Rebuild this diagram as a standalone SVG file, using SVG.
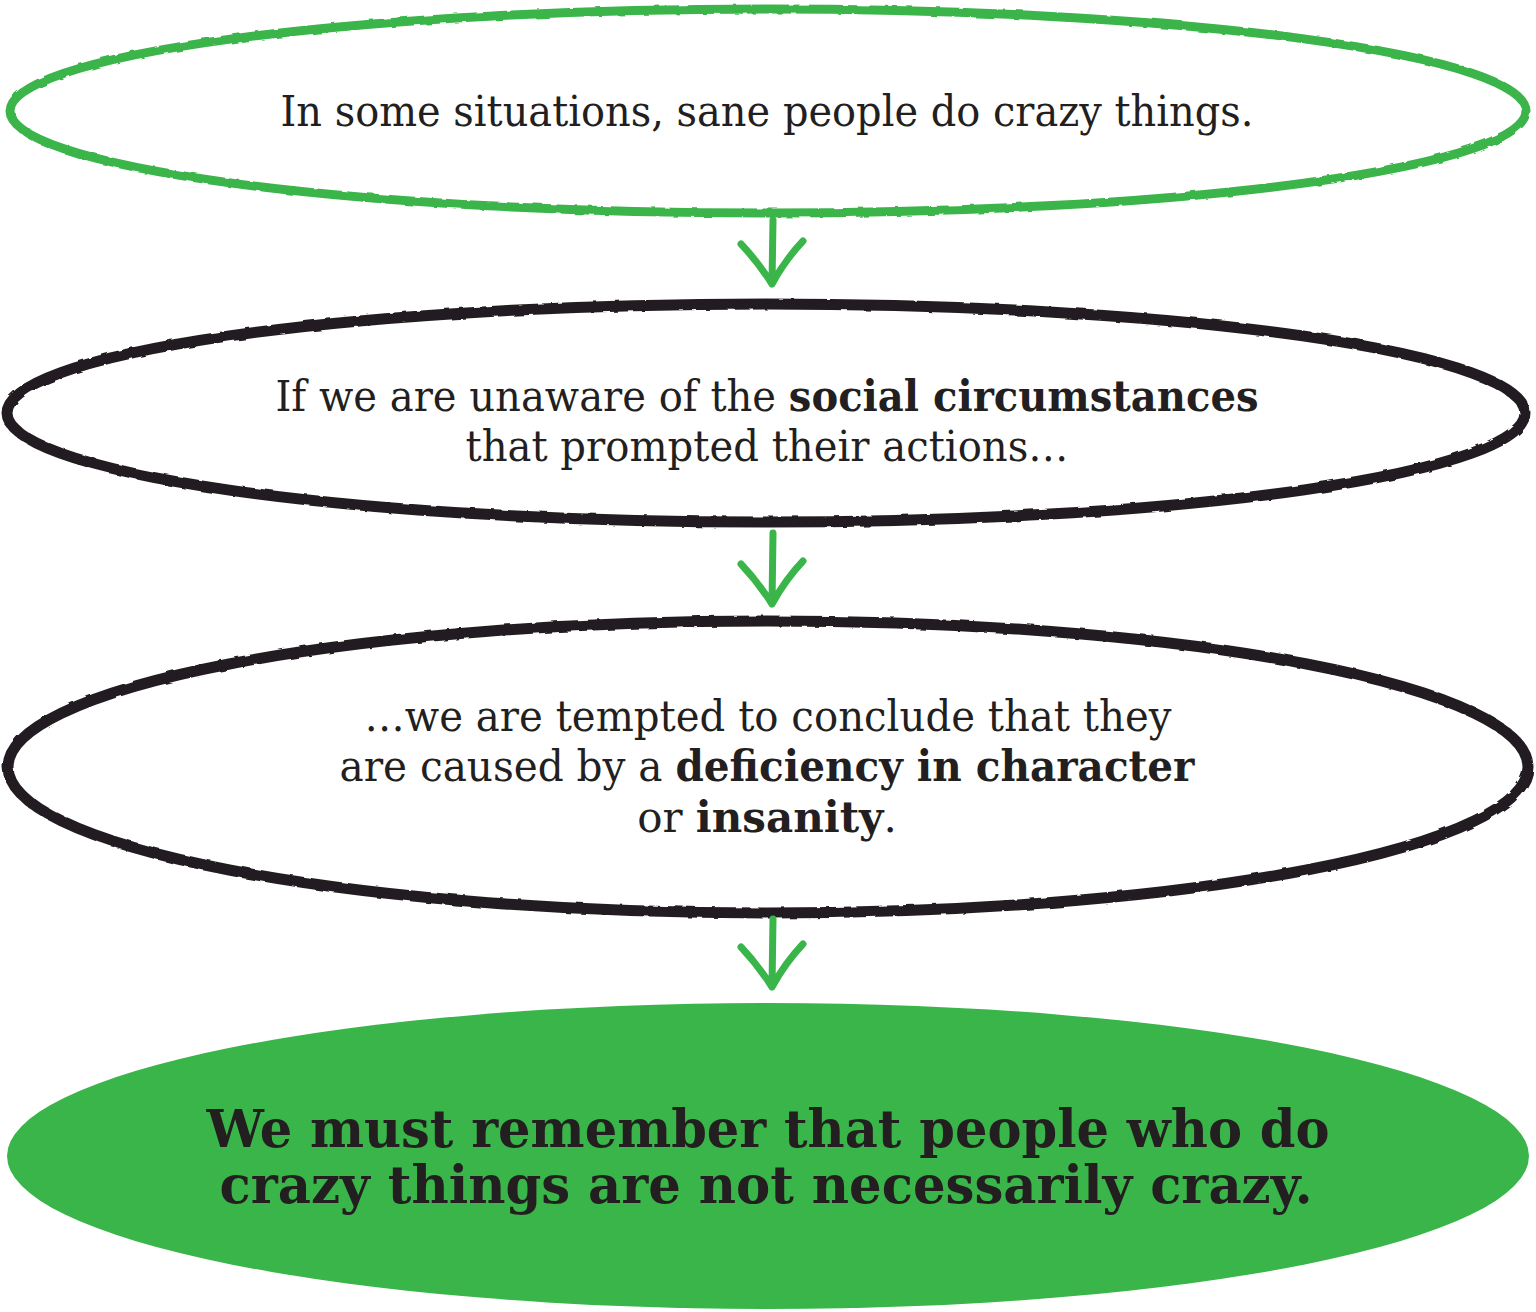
<svg xmlns="http://www.w3.org/2000/svg" width="1536" height="1312" viewBox="0 0 1536 1312">
<style>
.txt{font-family:"DejaVu Serif","Liberation Serif",serif;fill:#231f20;text-anchor:middle}
.lt{font-size:42px;font-weight:normal}
.b{font-weight:bold}
.big{font-size:52px;font-weight:bold}
.green{fill:none;stroke:#3ab54a;stroke-width:9}
.black{fill:none;stroke:#231f20;stroke-width:11}
.arrow{fill:none;stroke:#3ab54a;stroke-width:7;stroke-linecap:round;stroke-linejoin:round}
</style>
<defs>
<filter id="rough" x="-5%" y="-10%" width="110%" height="120%">
<feTurbulence type="fractalNoise" baseFrequency="0.08" numOctaves="2" seed="3"/>
<feDisplacementMap in="SourceGraphic" scale="3"/>
</filter>
</defs>
<rect width="1536" height="1312" fill="#ffffff"/>
<g id="node1">
<ellipse class="green" cx="768" cy="111" rx="758" ry="102" filter="url(#rough)"/>
<text class="txt lt" x="767" y="126" textLength="973" lengthAdjust="spacingAndGlyphs">In some situations, sane people do crazy things.</text>
</g>
<g id="node2">
<ellipse class="black" cx="766" cy="413" rx="759" ry="109" filter="url(#rough)"/>
<text class="txt lt" x="767" y="411" textLength="983" lengthAdjust="spacingAndGlyphs">If we are unaware of the <tspan class="b">social circumstances</tspan></text>
<text class="txt lt" x="767" y="461" textLength="603" lengthAdjust="spacingAndGlyphs">that prompted their actions…</text>
</g>
<g id="node3">
<ellipse class="black" cx="768" cy="767" rx="760" ry="146" filter="url(#rough)"/>
<text class="txt lt" x="768" y="731" textLength="807" lengthAdjust="spacingAndGlyphs">…we are tempted to conclude that they</text>
<text class="txt lt" x="767" y="781" textLength="855" lengthAdjust="spacingAndGlyphs">are caused by a <tspan class="b">deficiency in character</tspan></text>
<text class="txt lt" x="767" y="832">or <tspan class="b">insanity</tspan>.</text>
</g>
<g id="node4">
<ellipse cx="768" cy="1156" rx="761" ry="153" fill="#3ab54a"/>
<text class="txt big" x="768" y="1147" textLength="1123" lengthAdjust="spacingAndGlyphs">We must remember that people who do</text>
<text class="txt big" x="766" y="1203" textLength="1093" lengthAdjust="spacingAndGlyphs">crazy things are not necessarily crazy.</text>
</g>
<g id="connectors">
<path class="arrow" d="M773 220 L772 284 M741 244 Q758 262 772 284 Q785 260 803 241"/>
<path class="arrow" d="M773 533 L772 604 M741 564 Q758 582 772 604 Q785 580 803 561"/>
<path class="arrow" d="M773 919 L772 987 M741 947 Q758 965 772 987 Q785 963 803 944"/>
</g>
</svg>
